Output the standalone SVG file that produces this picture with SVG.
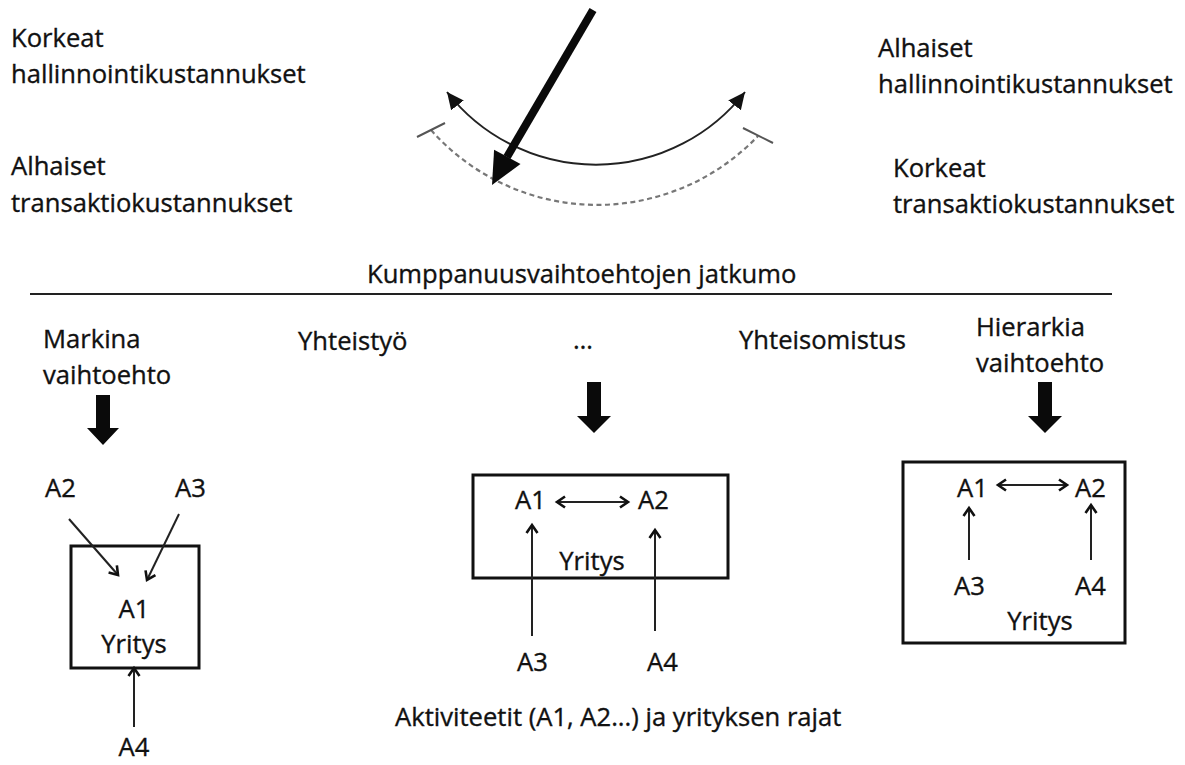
<svg xmlns="http://www.w3.org/2000/svg" width="1185" height="765" viewBox="0 0 1185 765">
<style>
text{font-family:"Open Sans","Noto Sans","Liberation Sans",sans-serif;font-size:25.6px;fill:#111;stroke:#111;stroke-width:0.35}
.mid{text-anchor:middle}
.box{fill:none;stroke:#111;stroke-width:3}
.thin{fill:none;stroke:#222;stroke-width:2}
.blk{fill:#0a0a0a}
</style>
<defs>
<marker id="open" markerUnits="userSpaceOnUse" markerWidth="14" markerHeight="14" refX="10" refY="7" orient="auto-start-reverse">
<path d="M2,1.5 L10,7 L2,12.5" fill="none" stroke="#111" stroke-width="2.6"/>
</marker>
<marker id="tri" markerUnits="userSpaceOnUse" markerWidth="20" markerHeight="20" refX="17" refY="9" orient="auto-start-reverse">
<path d="M0,1 L17,9 L0,17 Z" fill="#111"/>
</marker>
</defs>
<rect width="1185" height="765" fill="#fff"/>

<g id="cost-left">
<text x="11" y="47">Korkeat</text>
<text x="11" y="83">hallinnointikustannukset</text>
<text x="11" y="175">Alhaiset</text>
<text x="11" y="212">transaktiokustannukset</text>
</g>
<g id="cost-right">
<text x="878" y="57">Alhaiset</text>
<text x="878" y="93">hallinnointikustannukset</text>
<text x="893" y="177">Korkeat</text>
<text x="893" y="213">transaktiokustannukset</text>
</g>

<g id="continuum">
<text x="367" y="283">Kumppanuusvaihtoehtojen jatkumo</text>
<line x1="30" y1="294" x2="1112" y2="294" stroke="#222" stroke-width="2"/>
</g>

<g id="opt-market">
<text x="43" y="348">Markina</text>
<text x="43" y="384">vaihtoehto</text>
</g>
<g id="opt-coop"><text x="298" y="350">Yhteistyö</text></g>
<g id="opt-dots"><text class="mid" x="583" y="349">…</text></g>
<g id="opt-joint"><text x="739" y="349">Yhteisomistus</text></g>
<g id="opt-hier">
<text x="976" y="336">Hierarkia</text>
<text x="976" y="372">vaihtoehto</text>
</g>

<g id="box-market">
<rect class="box" x="71" y="546" width="128" height="122"/>
<text class="mid" x="134" y="618">A1</text>
<text class="mid" x="134" y="653">Yritys</text>
</g>
<g id="m-a2"><text x="45" y="497">A2</text></g>
<g id="m-a3"><text x="175" y="497">A3</text></g>
<g id="m-a4"><text class="mid" x="134" y="756">A4</text></g>

<g id="box-coop">
<rect class="box" x="473" y="475" width="255" height="103"/>
<text x="515" y="509">A1</text>
<text x="638" y="509">A2</text>
<text class="mid" x="592" y="570">Yritys</text>
</g>
<g id="c-a3"><text x="517" y="671">A3</text></g>
<g id="c-a4"><text x="647" y="671">A4</text></g>

<g id="box-hier">
<rect class="box" x="903" y="462" width="222" height="181"/>
<text x="957" y="497">A1</text>
<text x="1075" y="497">A2</text>
<text x="954" y="595">A3</text>
<text x="1075" y="595">A4</text>
<text class="mid" x="1040" y="630">Yritys</text>
</g>

<g id="caption"><text x="395" y="726">Aktiviteetit (A1, A2...) ja yrityksen rajat</text></g>

<g id="connectors">
<path class="thin" d="M447,92 A189,189 0 0 0 745,92" stroke="#333" marker-start="url(#tri)" marker-end="url(#tri)"/>
<path d="M431,130 A222,222 0 0 0 758,136" fill="none" stroke="#777" stroke-width="2.2" stroke-dasharray="5,3.5"/>
<line x1="417" y1="137" x2="445" y2="123" stroke="#555" stroke-width="2"/>
<line x1="743" y1="128" x2="773" y2="143" stroke="#555" stroke-width="2"/>
<line x1="593" y1="10" x2="507" y2="157" stroke="#0a0a0a" stroke-width="8"/>
<polygon class="blk" points="492,185 520.5,164.1 494.1,149.7"/>

<polygon class="blk" points="96,395 110,395 110,428 119,428 103,445 87,428 96,428"/>
<polygon class="blk" points="587,382 601,382 601,416 611,416 594,433 577,416 587,416"/>
<polygon class="blk" points="1038,382 1052,382 1052,416 1062,416 1045,433 1028,416 1038,416"/>

<line class="thin" x1="69" y1="519" x2="118" y2="575" marker-end="url(#open)"/>
<line class="thin" x1="179" y1="514" x2="147" y2="580" marker-end="url(#open)"/>
<line class="thin" x1="134" y1="727" x2="134" y2="668" marker-end="url(#open)"/>

<line class="thin" x1="557" y1="502" x2="628" y2="502" marker-start="url(#open)" marker-end="url(#open)"/>
<line class="thin" x1="532" y1="636" x2="532" y2="525" marker-end="url(#open)"/>
<line class="thin" x1="655" y1="631" x2="655" y2="530" marker-end="url(#open)"/>

<line class="thin" x1="998" y1="485" x2="1067" y2="485" marker-start="url(#open)" marker-end="url(#open)"/>
<line class="thin" x1="969" y1="560" x2="969" y2="508" marker-end="url(#open)"/>
<line class="thin" x1="1091" y1="560" x2="1091" y2="505" marker-end="url(#open)"/>
</g>
</svg>
